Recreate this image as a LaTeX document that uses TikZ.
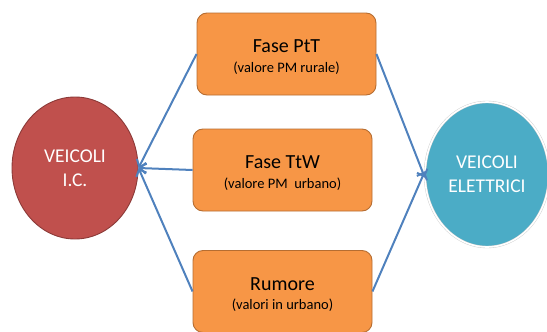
\documentclass[tikz,border=0pt]{standalone}
\usepackage{fontspec}
\setmainfont{Carlito}
\usepackage{tikz}
\usetikzlibrary{arrows.meta,shapes.geometric}
\definecolor{icred}{HTML}{C0504D}
\definecolor{icredline}{HTML}{8C3A38}
\definecolor{fase}{HTML}{F79646}
\definecolor{faseline}{HTML}{B66D31}
\definecolor{elblue}{HTML}{4BACC6}
\definecolor{link}{HTML}{4F81BD}
\newcommand{\fasetext}[2]{\raisebox{-4pt}[\height][\depth]{\begin{tabular}{@{}c@{}}%
	{\fontsize{20}{22}\selectfont #1}\\[5.5pt]{\fontsize{14.5}{17}\selectfont #2}\end{tabular}}}

\begin{document}
\begin{tikzpicture}[x=1pt,y=-1pt,
		fasebox/.style={draw=faseline, fill=fase, line width=0.9pt, rounded corners=10pt,
			minimum width=179pt, minimum height=82pt, inner sep=0pt},
		veicolo/.style={ellipse, inner sep=0pt, align=center, text=white,
			font=\fontsize{19.5}{24}\selectfont},
		link/.style={draw=link, line width=2pt, -{Straight Barb[length=6pt,width=11pt]}}]
			%%%%% START %%%%%
			
			\useasboundingbox (0,0) rectangle (547,332);
			\clip (0,0) rectangle (547,332);
			
			\node[veicolo, draw=icredline, fill=icred, line width=0.9pt,
				minimum width=126pt, minimum height=142pt] (ic) at (75,168) {VEICOLI\\I.C.};
			\node[veicolo, draw=black!20, double=white, double distance=1.6pt, fill=elblue,
				minimum width=124pt, minimum height=145pt] (el) at (487,174.5) {VEICOLI\\ELETTRICI};
			
			\node[fasebox] (ptt) at (286.5,54) {\fasetext{Fase PtT}{(valore PM rurale)}};
			\node[fasebox] (ttw) at (282.5,170) {\fasetext{Fase TtW}{(valore PM~ urbano)}};
			\node[fasebox] (rum) at (282.5,291.5) {\fasetext{Rumore}{(valori in urbano)}};
			
			\draw[link] (ptt.west) -- (ic.east);
			\draw[link] (ttw.west) -- (ic.east);
			\draw[link] (rum.west) -- (ic.east);
			
			\draw[link] (ptt.east) -- (el.183);
			\draw[link] (rum.east) -- (el.177);
			
			%%%%% END %%%%%
\end{tikzpicture}
\end{document}
